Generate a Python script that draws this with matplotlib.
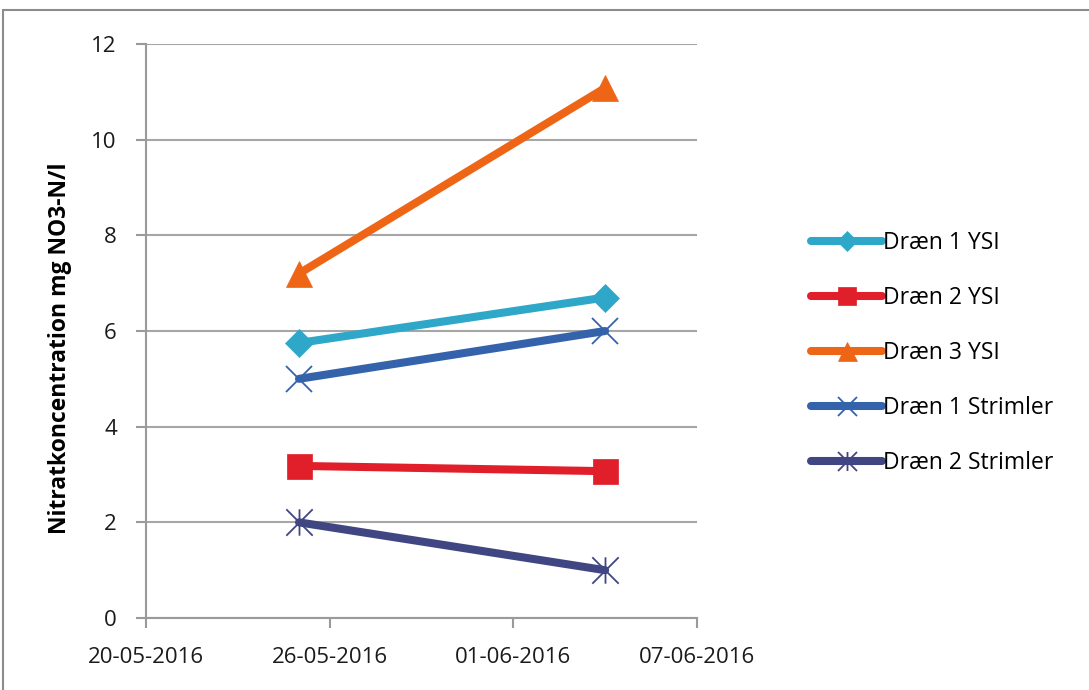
import matplotlib
matplotlib.use("Agg")
import matplotlib.pyplot as plt
import matplotlib.dates as mdates
from matplotlib.patches import Rectangle
from matplotlib.path import Path
from datetime import datetime

# data
dates = [datetime(2016, 5, 25), datetime(2016, 6, 4)]
series_names = ["Dræn 1 YSI", "Dræn 2 YSI", "Dræn 3 YSI",
                "Dræn 1 Strimler", "Dræn 2 Strimler"]
draen1_ysi = [5.75, 6.7]
draen2_ysi = [3.18, 3.07]
draen3_ysi = [7.2, 11.08]
draen1_strimler = [5.0, 6.0]
draen2_strimler = [2.0, 1.0]
x_ticks = [datetime(2016, 5, 20), datetime(2016, 5, 26),
           datetime(2016, 6, 1), datetime(2016, 6, 7)]
y_ticks = [0, 2, 4, 6, 8, 10, 12]

# asterisk marker: an x with a vertical bar through it
star = Path([(-1, -1), (1, 1), (-1, 1), (1, -1), (0, -1), (0, 1)],
            [Path.MOVETO, Path.LINETO, Path.MOVETO, Path.LINETO,
             Path.MOVETO, Path.LINETO])

values = [draen1_ysi, draen2_ysi, draen3_ysi, draen1_strimler, draen2_strimler]
colors = ["#2fa7c9", "#e01f2b", "#ef6516", "#3563ab", "#3f4682"]
markers = ["D", "s", "^", "x", star]
msizes = [14, 18, 19, 19, 19]

fig = plt.figure(figsize=(10.89, 6.90), dpi=100)
fig.patch.set_facecolor("white")
fig.patches.append(Rectangle((0.003, -0.05), 1.1, 1.0355, transform=fig.transFigure,
                             fill=False, edgecolor="#8c8c8c", linewidth=1.5))

ax = fig.add_axes([0.134, 0.1043, 0.506, 0.832])

for name, vals, c, m, ms in zip(series_names, values, colors, markers, msizes):
    thin = not isinstance(m, str) or m == "x"
    ax.plot(dates, vals, color=c, linewidth=5.8, solid_capstyle="round",
            marker=m, markersize=ms, markerfacecolor=c, markeredgecolor=c,
            markeredgewidth=1.3 if thin else 0.5,
            label=name, zorder=3)

ax.set_xlim(x_ticks[0], x_ticks[-1])
ax.set_ylim(0, 12)
ax.set_xticks(x_ticks)
ax.xaxis.set_major_formatter(mdates.DateFormatter("%d-%m-%Y"))
ax.set_yticks(y_ticks)
ax.yaxis.grid(True, color="#a6a6a6", linewidth=1.5)
ax.set_axisbelow(True)
for s in ["top", "right"]:
    ax.spines[s].set_visible(False)
for s in ["left", "bottom"]:
    ax.spines[s].set_color("#9a9a9a")
    ax.spines[s].set_linewidth(1.5)
ax.tick_params(axis="both", colors="#9a9a9a", width=1.5, length=7,
               labelcolor="#1a1a1a", labelsize=16)
ax.tick_params(axis="x", pad=14)
ax.tick_params(axis="y", pad=14)
for lbl in ax.get_xticklabels() + ax.get_yticklabels():
    lbl.set_family("Open Sans")

ax.set_ylabel("Nitratkoncentration mg NO3-N/l", fontsize=16.5, fontweight="bold",
              family="Open Sans")
ax.yaxis.set_label_coords(-0.135, 0.47)

ax.legend(loc="center left", bbox_to_anchor=(1.17, 0.462), frameon=False,
          prop={"family": "Open Sans", "size": 16.5}, labelspacing=1.35,
          handlelength=3.1, handletextpad=0.05, markerscale=0.72)

fig.savefig("out.png", dpi=100)
